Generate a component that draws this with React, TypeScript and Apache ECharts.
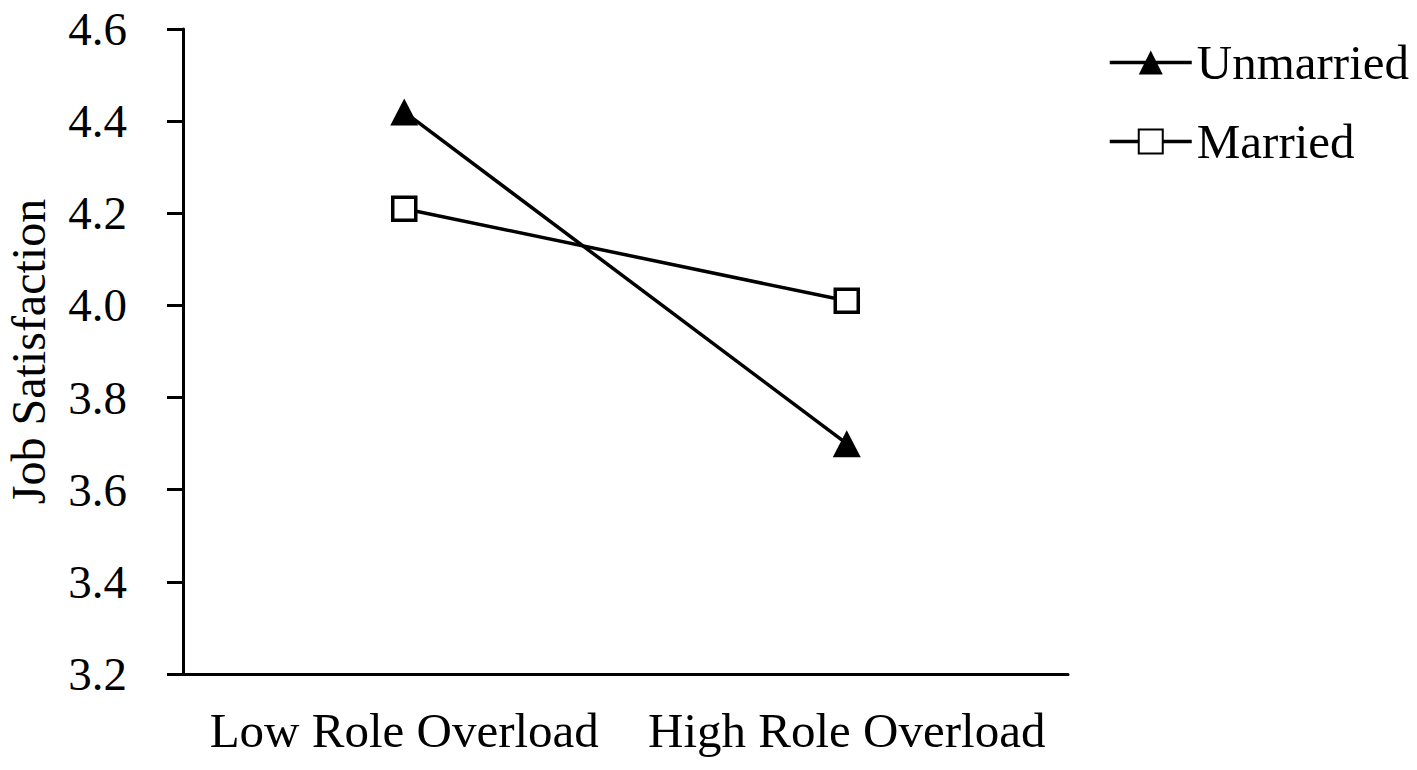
import React, { useEffect, useRef } from "react";
import * as echarts from "echarts";

const categories = ["Low Role Overload", "High Role Overload"];
const unmarried = [4.42, 3.7];
const married = [4.21, 4.01];
const seriesNames = ["Unmarried", "Married"];
const yTicks = { min: 3.2, max: 4.6, interval: 0.2 };

const FONT = "'Liberation Serif', 'Times New Roman', serif";

export default function App() {
  const ref = useRef<HTMLDivElement>(null);
  useEffect(() => {
    document.body.style.margin = "0";
    const chart = echarts.init(ref.current!, null, { renderer: "svg" });
    chart.setOption({
      animation: false,
      backgroundColor: "#ffffff",
      textStyle: { fontFamily: FONT, color: "#000" },
      grid: { left: 183, right: 349, top: 29, bottom: 96, containLabel: false, outerBoundsMode: "none" },
      legend: {
        orient: "vertical",
        left: 1103,
        top: 33,
        itemWidth: 82,
        itemHeight: 30,
        itemGap: 30,
        data: seriesNames,
        lineStyle: { width: 3.5, color: "#000" },
        textStyle: { fontFamily: FONT, fontSize: 49, color: "#000", lineHeight: 49 },
      },
      xAxis: {
        type: "category",
        data: categories,
        boundaryGap: true,
        axisLine: { show: true, lineStyle: { color: "#000", width: 3 } },
        axisTick: { show: false },
        axisLabel: { fontFamily: FONT, fontSize: 49, color: "#000", margin: 32, interval: 0 },
        splitLine: { show: false },
      },
      yAxis: {
        type: "value",
        min: yTicks.min,
        max: yTicks.max,
        interval: yTicks.interval,
        name: "Job Satisfaction",
        nameLocation: "middle",
        nameRotate: 90,
        nameGap: 136,
        nameTextStyle: { fontFamily: FONT, fontSize: 48, color: "#000", lineHeight: 38 },
        axisLine: { show: true, lineStyle: { color: "#000", width: 3 } },
        axisTick: { show: true, length: 16, lineStyle: { color: "#000", width: 3 } },
        axisLabel: {
          fontFamily: FONT,
          fontSize: 47,
          color: "#000",
          margin: 56,
          formatter: (v: number) => v.toFixed(1),
        },
        splitLine: { show: false },
      },
      series: [
        {
          name: seriesNames[0],
          type: "line",
          data: unmarried,
          symbol: "triangle",
          symbolSize: [28, 27],
          lineStyle: { color: "#000", width: 3.5 },
          itemStyle: { color: "#000", borderColor: "#000", borderWidth: 0 },
          z: 3,
        },
        {
          name: seriesNames[1],
          type: "line",
          data: married,
          symbol: "rect",
          symbolSize: 23,
          lineStyle: { color: "#000", width: 3.5 },
          itemStyle: { color: "#fff", borderColor: "#000", borderWidth: 3.5 },
          z: 2,
        },
      ],
    });
    return () => chart.dispose();
  }, []);
  return <div ref={ref} style={{ width: 1417, height: 770 }} />;
}
